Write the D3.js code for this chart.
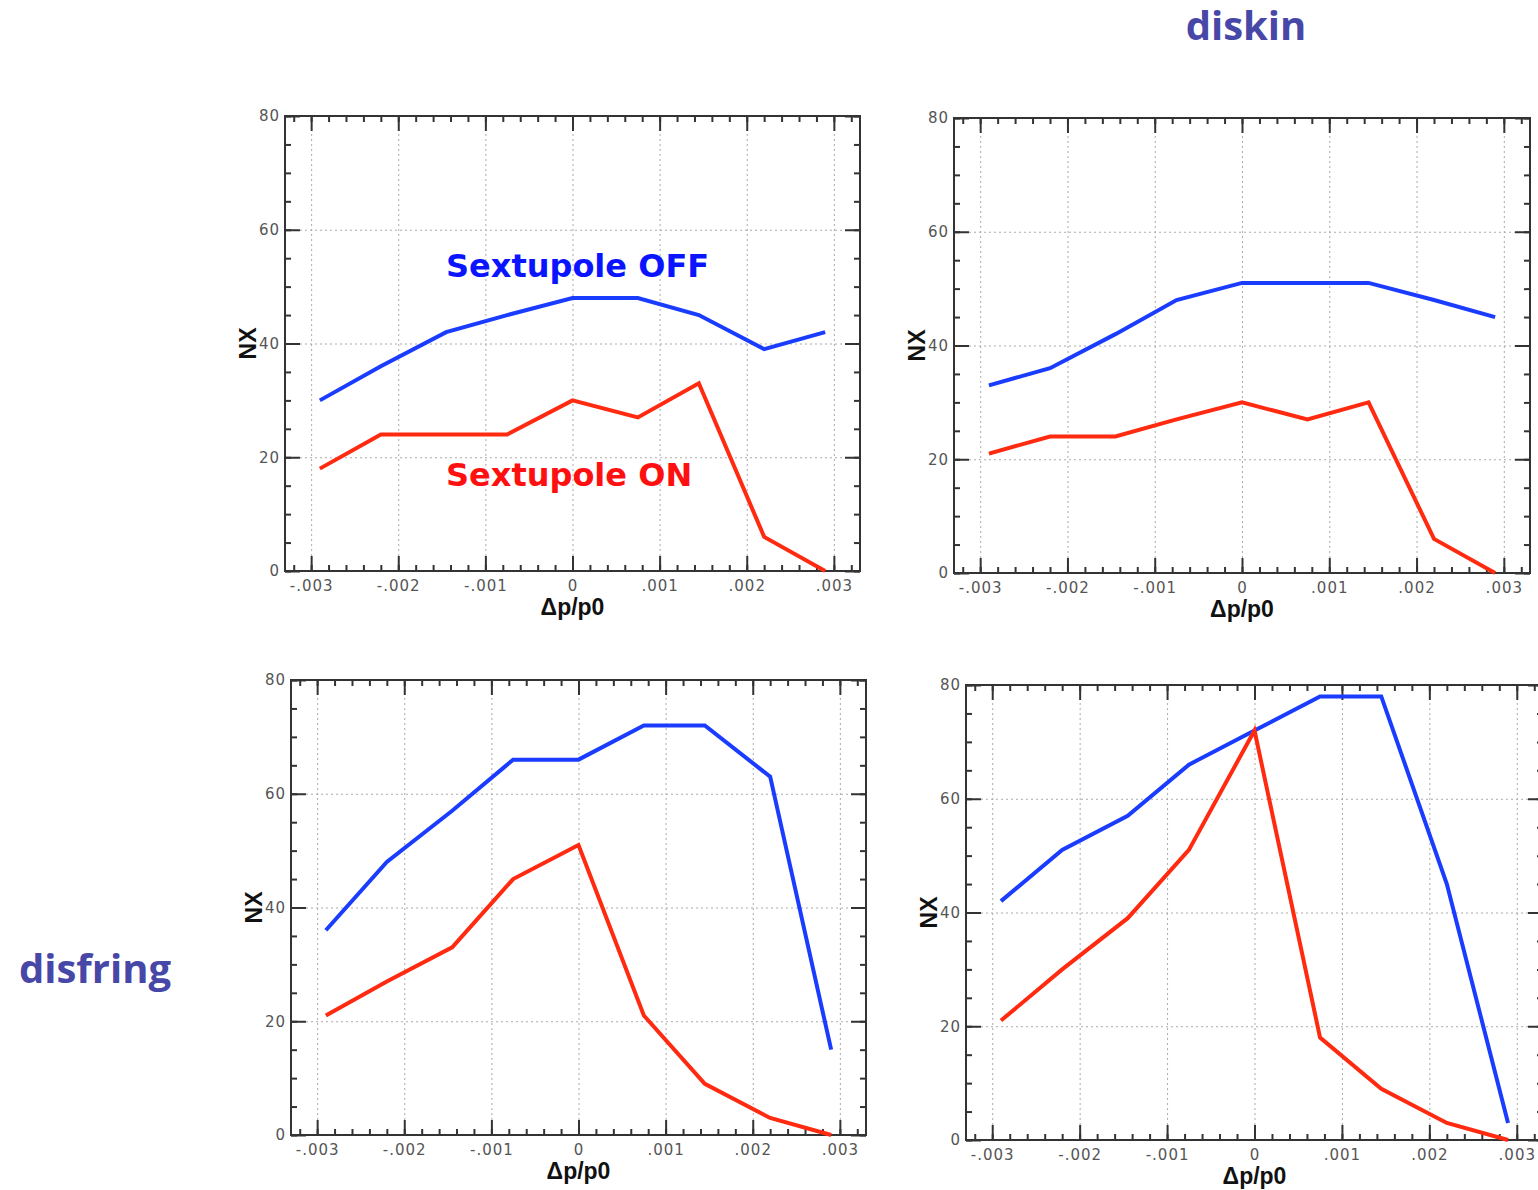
<!DOCTYPE html>
<html>
<head>
<meta charset="utf-8">
<script src="https://cdn.jsdelivr.net/npm/d3@7"></script>
<style>
  body { margin: 0; background: #fff; }
  .tick text { font-family: "DejaVu Sans", sans-serif; font-size: 15px; fill: #555; letter-spacing: 1px; }
  .grid line { stroke: #aaa; stroke-width: 1; stroke-dasharray: 2,3; }
  .grid .domain { display: none; }
  .frame .domain { display: none; }
  .frame line { stroke: #333; stroke-width: 2; }
</style>
</head>
<body>
<script>
// momentum deviation of each tracked particle set
const dpp = [-0.0029, -0.0022, -0.00145, -0.00075, 0, 0.00075, 0.00145, 0.0022, 0.0029];
const xTicks = [-0.003, -0.002, -0.001, 0, 0.001, 0.002, 0.003];
const yTicks = [0, 20, 40, 60, 80];

// NX per panel, sextupole off (blue) and on (red)
const nxOffTL = [30, 36, 42, 45, 48, 48, 45, 39, 42];
const nxOnTL  = [18, 24, 24, 24, 30, 27, 33, 6, 0];
const nxOffTR = [33, 36, 42, 48, 51, 51, 51, 48, 45];
const nxOnTR  = [21, 24, 24, 27, 30, 27, 30, 6, 0];
const nxOffBL = [36, 48, 57, 66, 66, 72, 72, 63, 15];
const nxOnBL  = [21, 27, 33, 45, 51, 21, 9, 3, 0];
const nxOffBR = [42, 51, 57, 66, 72, 78, 78, 45, 3];
const nxOnBR  = [21, 30, 39, 51, 72, 18, 9, 3, 0];

const W = 1538, H = 1190;
const blue = "#1a3cff", red = "#ff2a10";

const svg = d3.select("body").append("svg")
  .attr("width", W).attr("height", H);

// panel frames (left, top, right, bottom)
const panels = [
  {box: [285, 116, 860, 571], off: nxOffTL, on: nxOnTL},
  {box: [954, 118, 1530, 573], off: nxOffTR, on: nxOnTR},
  {box: [291, 680, 866, 1135], off: nxOffBL, on: nxOnBL},
  {box: [966, 685, 1543, 1140], off: nxOffBR, on: nxOnBR}
];

const fmtX = d => d === 0 ? "0" : (d < 0 ? "-" : "") + Math.abs(d).toFixed(3).replace(/^0/, "");
const xMinor = d3.range(-0.0032, 0.00321, 0.0002);
const yMinor = d3.range(0, 81, 5);

panels.forEach(p => {
  const [l, t, r, b] = p.box;
  const w = r - l, h = b - t;
  const g = svg.append("g").attr("transform", `translate(${l},${t})`);
  const x = d3.scaleLinear().domain([-0.0033, 0.0033]).range([0, w]);
  const y = d3.scaleLinear().domain([0, 80]).range([h, 0]);

  // dotted grid
  g.append("g").attr("class", "grid")
    .attr("transform", `translate(0,${h})`)
    .call(d3.axisBottom(x).tickValues(xTicks).tickSize(-h).tickFormat(""));
  g.append("g").attr("class", "grid")
    .call(d3.axisLeft(y).tickValues(yTicks).tickSize(-w).tickFormat(""));

  // inward ticks on all four sides
  const sides = [
    [d3.axisBottom, x, `translate(0,${h})`, xTicks, xMinor, true],
    [d3.axisTop, x, "translate(0,0)", xTicks, xMinor, false],
    [d3.axisLeft, y, "translate(0,0)", yTicks, yMinor, true],
    [d3.axisRight, y, `translate(${w},0)`, yTicks, yMinor, false]
  ];
  sides.forEach(([ax, sc, tr, major, minor, labelled]) => {
    g.append("g").attr("class", "frame").attr("transform", tr)
      .call(ax(sc).tickValues(minor).tickSize(-6).tickFormat(""));
    const a = ax(sc).tickValues(major).tickSize(-15);
    if (labelled) {
      a.tickFormat(sc === x ? fmtX : d3.format("d")).tickPadding(sc === x ? 9 : 5);
    } else a.tickFormat("");
    g.append("g").attr("class", "frame").attr("transform", tr).call(a);
  });

  g.append("rect").attr("width", w).attr("height", h)
    .attr("fill", "none").attr("stroke", "#333").attr("stroke-width", 2);

  const line = d3.line().x((d, i) => x(dpp[i])).y(d => y(d));
  g.append("path").datum(p.off).attr("d", line)
    .attr("fill", "none").attr("stroke", blue).attr("stroke-width", 4);
  g.append("path").datum(p.on).attr("d", line)
    .attr("fill", "none").attr("stroke", red).attr("stroke-width", 4);

  g.append("text")
    .attr("transform", `translate(-29,${h / 2}) rotate(-90)`)
    .attr("text-anchor", "middle")
    .style("font-family", "'Liberation Sans', Arial, sans-serif")
    .style("font-weight", "bold").style("font-size", "23px").attr("fill", "#111")
    .text("NX");
  g.append("text")
    .attr("x", x(0)).attr("y", h + 44)
    .attr("text-anchor", "middle")
    .style("font-family", "'Liberation Sans', Arial, sans-serif")
    .style("font-weight", "bold").style("font-size", "23px").attr("fill", "#111")
    .text("Δp/p0");
});

// legend labels in the first panel
svg.append("text").attr("x", 446).attr("y", 277)
  .style("font-family", "'DejaVu Sans', sans-serif").style("font-weight", "bold")
  .style("font-size", "32px").attr("fill", "#0a14ff").text("Sextupole OFF");
svg.append("text").attr("x", 446).attr("y", 486)
  .style("font-family", "'DejaVu Sans', sans-serif").style("font-weight", "bold")
  .style("font-size", "32px").attr("fill", "#ff1010").text("Sextupole ON");

// section titles
svg.append("text").attr("x", 1246).attr("y", 40).attr("text-anchor", "middle")
  .style("font-family", "'Open Sans', sans-serif").style("font-weight", "bold")
  .style("font-size", "40px").attr("fill", "#4747a8").text("diskin");
svg.append("text").attr("x", 95).attr("y", 983).attr("text-anchor", "middle")
  .style("font-family", "'Open Sans', sans-serif").style("font-weight", "bold")
  .style("font-size", "40px").attr("fill", "#4747a8").text("disfring");
</script>
</body>
</html>
